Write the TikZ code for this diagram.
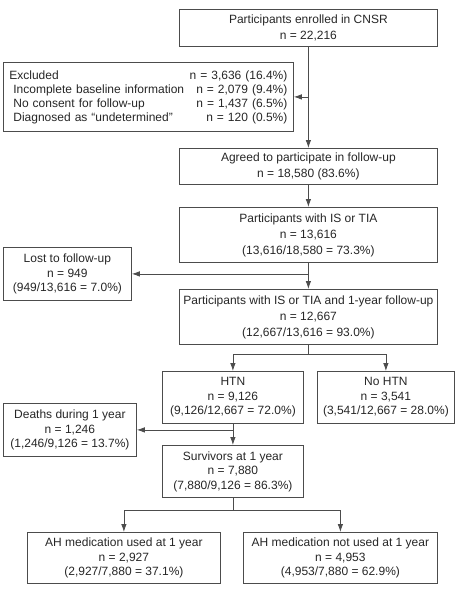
\documentclass[tikz,border=0pt]{standalone}
\usepackage{fontspec}
\setmainfont{Liberation Sans}
\usetikzlibrary{arrows.meta}

\begin{document}
\begin{tikzpicture}[x=1pt, y=-1pt,
  box/.style={draw=black!70, line width=0.8pt, text=black!85, align=center, inner sep=0pt, anchor=north west, font=\fontsize{12}{14.5}\selectfont},
  tallbox/.style={box, font=\fontsize{12}{16}\selectfont},
  flow/.style={draw=black!70, line width=0.8pt, -{Latex[length=8pt,width=5.5pt]}},
  link/.style={draw=black!70, line width=0.8pt}]
  \useasboundingbox (0,0) rectangle (456,590);

  \node[tallbox, minimum width=258pt, minimum height=37pt] (cnsr) at (179,9) {Participants enrolled in CNSR\\n = 22,216};

  \node[box, align=left, text width=278pt, inner xsep=6pt, minimum height=69pt, font=\fontsize{12}{14}\selectfont] (excl) at (3,62)
    {Excluded\hfill n = 3,636 (16.4\%)\\
     \hspace*{4pt}Incomplete baseline information\hfill n = 2,079 (9.4\%)\\
     \hspace*{4pt}No consent for follow-up\hfill n = 1,437 (6.5\%)\\
     \hspace*{4pt}Diagnosed as ``undetermined''\hfill n = 120 (0.5\%)};

  \node[tallbox, minimum width=258pt, minimum height=36pt] (agreed) at (179,148) {Agreed to participate in follow-up\\n = 18,580 (83.6\%)};
  \node[tallbox, minimum width=258pt, minimum height=55pt] (istia) at (179,207) {Participants with IS or TIA\\n = 13,616\\(13,616/18,580 = 73.3\%)};
  \node[box, minimum width=128pt, minimum height=53pt] (lost) at (3,247) {Lost to follow-up\\n = 949\\(949/13,616 = 7.0\%)};
  \node[tallbox, minimum width=258pt, minimum height=55pt] (oneyear) at (179,289) {Participants with IS or TIA and 1-year follow-up\\n = 12,667\\(12,667/13,616 = 93.0\%)};

  \node[box, minimum width=141pt, minimum height=52pt] (htn) at (162,371) {HTN\\n = 9,126\\(9,126/12,667 = 72.0\%)};
  \node[box, minimum width=137pt, minimum height=52pt] (nohtn) at (317,371) {No HTN\\n = 3,541\\(3,541/12,667 = 28.0\%)};
  \node[box, minimum width=133pt, minimum height=53pt] (deaths) at (3,403) {Deaths during 1 year\\n = 1,246\\(1,246/9,126 = 13.7\%)};
  \node[box, minimum width=141pt, minimum height=52pt] (surv) at (162,445) {Survivors at 1 year\\n = 7,880\\(7,880/9,126 = 86.3\%)};

  \node[box, minimum width=193pt, minimum height=51pt] (ahused) at (27,532) {AH medication used at 1 year\\n = 2,927\\(2,927/7,880 = 37.1\%)};
  \node[box, minimum width=194pt, minimum height=51pt] (ahnot) at (243,532) {AH medication not used at 1 year\\n = 4,953\\(4,953/7,880 = 62.9\%)};

  % main line and side exits
  \draw[flow] (cnsr) -- (agreed);
  \coordinate (exclout) at (cnsr.south |- excl.east);
  \draw[flow] (exclout) -- (excl.east);
  \draw[flow] (agreed) -- (istia);
  \draw[flow] (istia) -- (oneyear);
  \coordinate (lostout) at (istia.south |- lost.east);
  \draw[flow] (lostout) -- (lost.east);

  % split by HTN
  \draw[link] (oneyear.south) -- ++(0,10) coordinate (htnsplit);
  \draw[flow] (htnsplit) -| (htn.north);
  \draw[flow] (htnsplit) -| (nohtn.north);
  \draw[flow] (htn) -- (surv);
  \coordinate (deathout) at (htn.south |- deaths.east);
  \draw[flow] (deathout) -- (deaths.east);

  % split by medication
  \draw[link] (surv.south) -- ++(0,13) coordinate (ahsplit);
  \draw[flow] (ahsplit) -| (ahused.north);
  \draw[flow] (ahsplit) -| (ahnot.north);
\end{tikzpicture}
\end{document}
